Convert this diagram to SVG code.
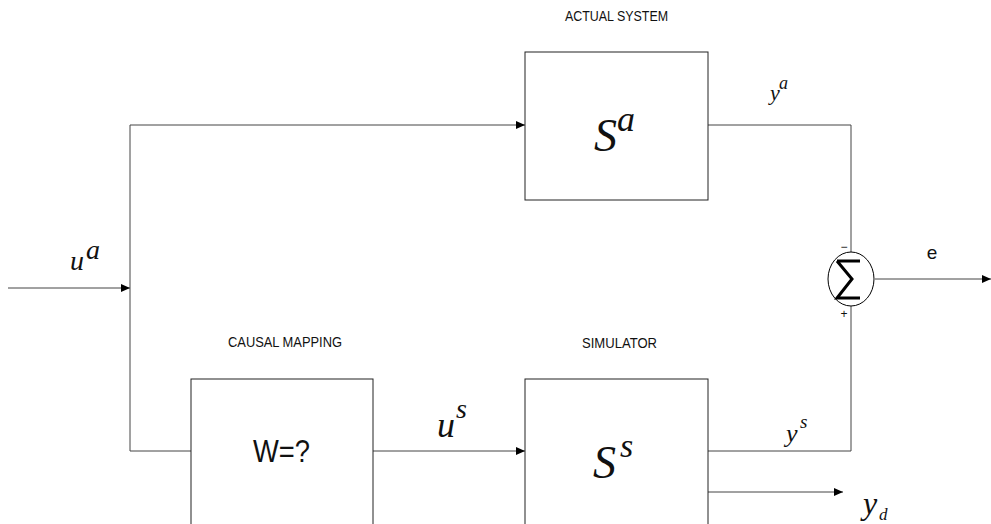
<svg xmlns="http://www.w3.org/2000/svg" width="991" height="524" viewBox="0 0 991 524">
<style>
.box{fill:#fff;stroke:#222;stroke-width:1}
.ln{fill:none;stroke:#444;stroke-width:1}
.cap{font-family:'Liberation Sans',Arial,sans-serif;font-size:14px;fill:#111}
.m{font-family:'Times New Roman','Liberation Serif','DejaVu Serif',serif;font-style:italic;fill:#111}
.s{font-family:'Liberation Sans',Arial,sans-serif;fill:#111}
</style>
<defs>
<marker id="ar" markerWidth="9" markerHeight="8" refX="9" refY="4" orient="auto" markerUnits="userSpaceOnUse">
<path d="M0,0 L9,4 L0,8 Z" fill="#000"/>
</marker>
</defs>
<g id="connectors">
<path class="ln" d="M8,288 H130" marker-end="url(#ar)"/>
<path class="ln" d="M130,451 V125 H525" marker-end="url(#ar)"/>
<path class="ln" d="M130,451 H191"/>
<path class="ln" d="M373,451 H525" marker-end="url(#ar)"/>
<path class="ln" d="M708,125 H851 V252"/>
<path class="ln" d="M708,451 H851 V306"/>
<path class="ln" d="M875,279 H991" marker-end="url(#ar)"/>
<path class="ln" d="M708,492 H843" marker-end="url(#ar)"/>
</g>
<g id="actual">
<rect class="box" x="525" y="52" width="183" height="148"/>
<text class="cap" x="565" y="21" textLength="103" lengthAdjust="spacingAndGlyphs">ACTUAL SYSTEM</text>
<text class="m" x="594" y="151" font-size="46">S</text>
<text class="m" x="617" y="131" font-size="36">a</text>
</g>
<g id="mapping">
<rect class="box" x="191" y="379" width="182" height="160"/>
<text class="cap" x="228" y="347" textLength="114" lengthAdjust="spacingAndGlyphs">CAUSAL  MAPPING</text>
<text class="s" x="253" y="462" font-size="32" textLength="57" lengthAdjust="spacingAndGlyphs">W=?</text>
</g>
<g id="simulator">
<rect class="box" x="525" y="379" width="183" height="160"/>
<text class="cap" x="582" y="348" textLength="75" lengthAdjust="spacingAndGlyphs">SIMULATOR</text>
<text class="m" x="593" y="478" font-size="46">S</text>
<text class="m" x="620" y="457" font-size="34">s</text>
</g>
<g id="sum">
<ellipse cx="851" cy="279" rx="23" ry="27" fill="#fff" stroke="#000" stroke-width="1"/>
<path d="M837,261 H860 M837,261 L852,279 L837,298 H860" fill="none" stroke="#000" stroke-width="3"/>
<text class="s" x="844" y="251" font-size="12" text-anchor="middle">−</text>
<text class="s" x="844" y="318" font-size="12" text-anchor="middle">+</text>
</g>
<g id="labels">
<text class="m" x="70" y="270" font-size="28">u</text>
<text class="m" x="86" y="259" font-size="28">a</text>
<text class="m" x="770" y="100" font-size="22">y</text>
<text class="m" x="779" y="89" font-size="18">a</text>
<text class="m" x="786" y="442" font-size="26">y</text>
<text class="m" x="800" y="428" font-size="19">s</text>
<text class="m" x="437" y="437" font-size="36">u</text>
<text class="m" x="456" y="418" font-size="28">s</text>
<text class="m" x="863" y="514" font-size="32">y</text>
<text class="m" x="879" y="520" font-size="17">d</text>
<text class="s" x="932" y="259" font-size="19" text-anchor="middle">e</text>
</g>
</svg>
